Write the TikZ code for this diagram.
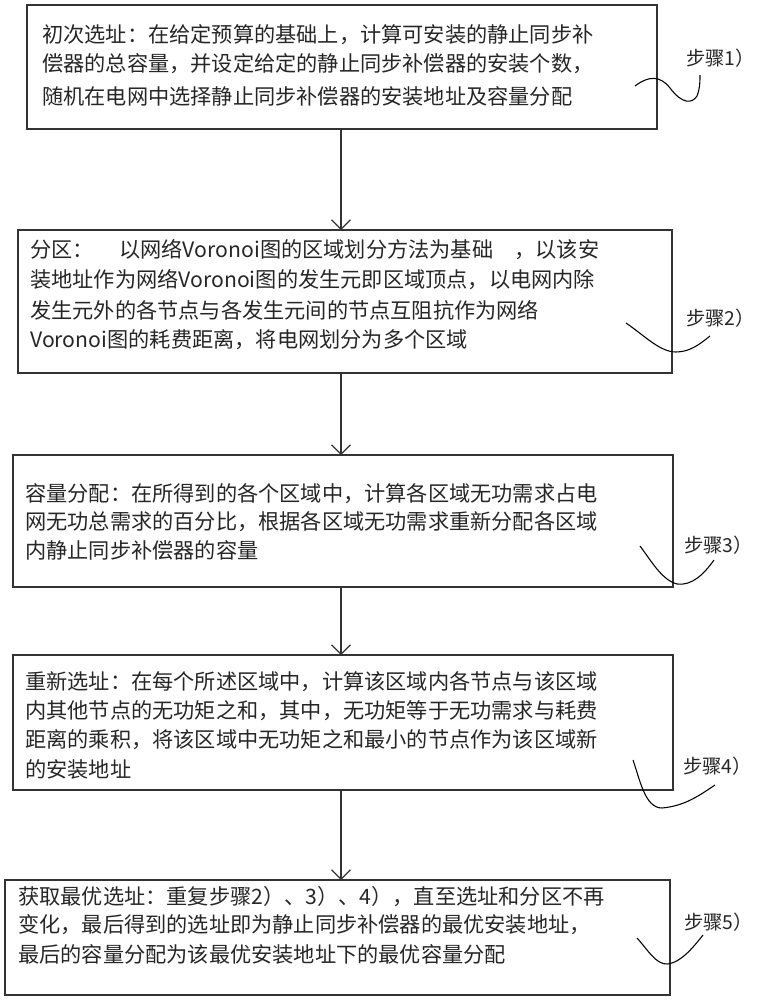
\documentclass[tikz,border=0pt]{standalone}
\usepackage{fontspec}
\setmainfont{Noto Sans CJK SC}
\usetikzlibrary{arrows.meta}
\begin{document}
\begin{tikzpicture}[x=0.75pt,y=-0.75pt,
  box/.style={draw=black!80,line width=0.9pt},
  ln/.style={anchor=west,inner sep=0pt,font=\fontsize{15.9}{18}\selectfont,text=black!85},
  lab/.style={anchor=west,inner sep=0pt,font=\fontsize{14.5}{18}\selectfont,text=black!85},
  arr/.style={line width=0.9pt,draw=black!80,-{Straight Barb[length=7pt,width=14pt]}},
  sq/.style={line width=0.8pt}]
\useasboundingbox (0,0) rectangle (760,1000);
\draw[box] (27,5) rectangle (657,129);
\coordinate (b1b) at (341,129);
\coordinate (b2t) at (341,230);
\draw[box] (18,230) rectangle (672,373);
\coordinate (b2b) at (341,373);
\coordinate (b3t) at (341,455);
\draw[box] (13,455) rectangle (673,587);
\coordinate (b3b) at (341,587);
\coordinate (b4t) at (341,655);
\draw[box] (13,655) rectangle (673,790);
\coordinate (b4b) at (341,790);
\coordinate (b5t) at (341,880);
\draw[box] (5,880) rectangle (670,995);
\draw[arr] (b1b) -- (b2t);
\draw[arr] (b2b) -- (b3t);
\draw[arr] (b3b) -- (b4t);
\draw[arr] (b4b) -- (b5t);
% box 1
\node[ln] (t11) at (42,35) {初次选址：在给定预算的基础上，计算可安装的静止同步补};
\node[ln] (t12) at (42,64) {偿器的总容量，并设定给定的静止同步补偿器的安装个数，};
\node[ln] (t13) at (42,96) {随机在电网中选择静止同步补偿器的安装地址及容量分配};
% box 2
\node[ln] (t21) at (30,250) {分区：\hspace{1.2em}以网络Voronoi图的区域划分方法为基础\hspace{1em}，以该安};
\node[ln] (t22) at (30,280) {装地址作为网络Voronoi图的发生元即区域顶点，以电网内除};
\node[ln] (t23) at (30,310) {发生元外的各节点与各发生元间的节点互阻抗作为网络};
\node[ln] (t24) at (30,340) {Voronoi图的耗费距离，将电网划分为多个区域};
% box 3
\node[ln] (t31) at (25,494) {容量分配：在所得到的各个区域中，计算各区域无功需求占电};
\node[ln] (t32) at (25,522) {网无功总需求的百分比，根据各区域无功需求重新分配各区域};
\node[ln] (t33) at (25,550) {内静止同步补偿器的容量};
% box 4
\node[ln] (t41) at (25,682) {重新选址：在每个所述区域中，计算该区域内各节点与该区域};
\node[ln] (t42) at (25,711) {内其他节点的无功矩之和，其中，无功矩等于无功需求与耗费};
\node[ln] (t43) at (25,740) {距离的乘积，将该区域中无功矩之和最小的节点作为该区域新};
\node[ln] (t44) at (25,769) {的安装地址};
% box 5
\node[ln] (t51) at (18,897) {获取最优选址：重复步骤2）、3）、4），直至选址和分区不再};
\node[ln] (t52) at (18,925) {变化，最后得到的选址即为静止同步补偿器的最优安装地址，};
\node[ln] (t53) at (18,954) {最后的容量分配为该最优安装地址下的最优容量分配};
% step labels
\node[lab] (s1) at (686,58) {步骤1）};
\node[lab] (s2) at (686,318) {步骤2）};
\node[lab] (s3) at (684,545) {步骤3）};
\node[lab] (s4) at (683,766) {步骤4）};
\node[lab] (s5) at (684,922) {步骤5）};
\draw[sq] (635,86) .. controls (648,76) and (660,75) .. (670,88) .. controls (682,104) and (692,104) .. (697,96) .. controls (700,88) and (700,82) .. (700,75);
\draw[sq] (626,323) .. controls (645,336) and (660,352) .. (676,352) .. controls (690,352) and (700,344) .. (710,336);
\draw[sq] (640,546) .. controls (652,562) and (662,580) .. (677,584) .. controls (692,586) and (704,574) .. (714,560);
\draw[sq] (633,760) .. controls (640,780) and (645,808) .. (662,808) .. controls (685,806) and (700,795) .. (715,785);
\draw[sq] (637,938) .. controls (648,950) and (656,965) .. (668,964) .. controls (682,962) and (695,945) .. (703,935);
\end{tikzpicture}
\end{document}
